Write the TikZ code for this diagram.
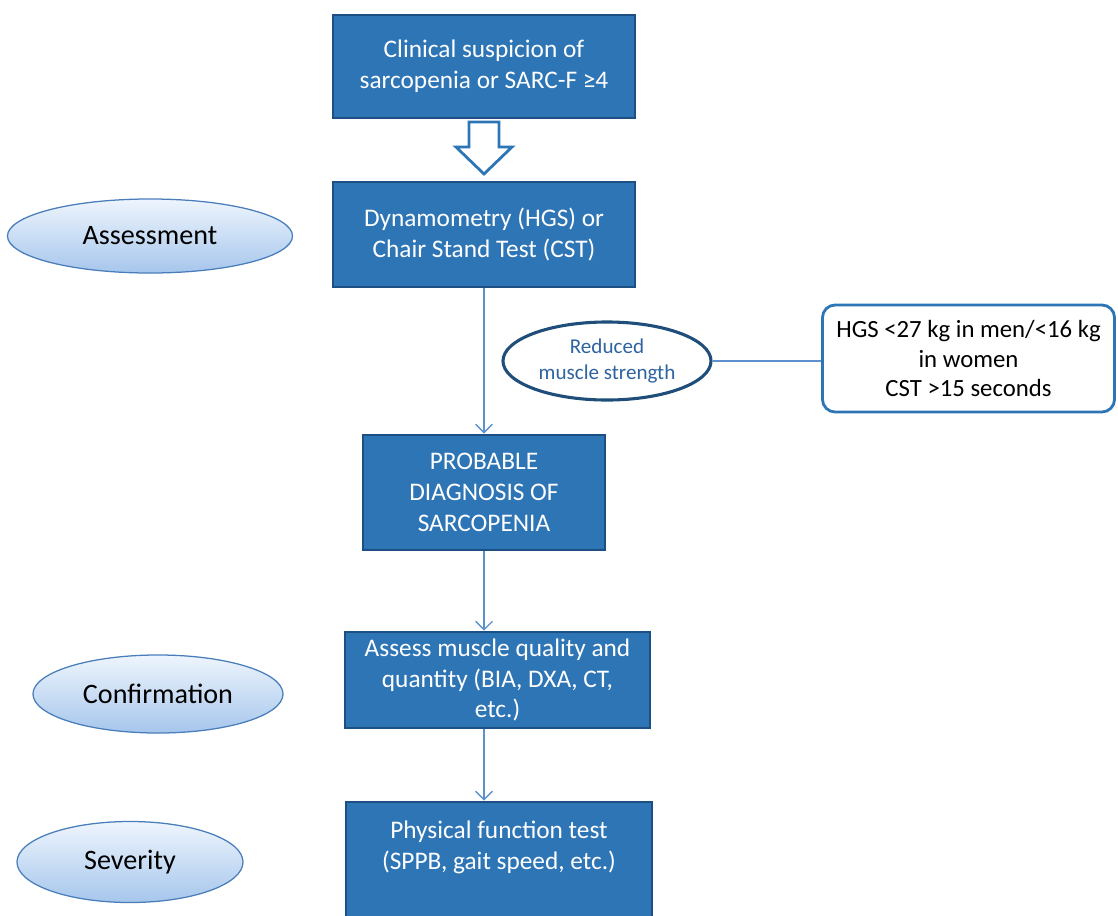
\documentclass[tikz,border=0pt]{standalone}
\usepackage{fontspec}
\setmainfont{Carlito}
\usetikzlibrary{shapes.geometric,arrows.meta}
\definecolor{boxblue}{RGB}{46,117,182}
\definecolor{boxedge}{RGB}{28,80,132}
\definecolor{linkblue}{RGB}{91,145,205}
\definecolor{ovaledge}{RGB}{74,126,187}
\definecolor{ovaltop}{RGB}{238,245,253}
\definecolor{ovalbot}{RGB}{166,198,236}
\definecolor{darkedge}{RGB}{30,78,121}
\definecolor{labelblue}{RGB}{46,100,160}
\tikzset{
  stagebox/.style={draw=boxedge, line width=1.8pt, fill=boxblue, text=white, align=center,
    font=\fontsize{18}{22}\selectfont, inner sep=2pt},
  phase/.style={ellipse, draw=ovaledge, line width=0.9pt, top color=ovaltop, bottom color=ovalbot,
    font=\fontsize{20}{24}\selectfont, inner sep=0pt},
  link/.style={draw=linkblue, line width=1pt, -{Straight Barb[length=6pt,width=12pt]}},
}
\begin{document}
\begin{tikzpicture}[x=0.025cm,y=-0.025cm]
\clip (0,0) rectangle (1118,915);
\node[stagebox, minimum width=7.55cm, minimum height=2.575cm] (suspect) at (484,66.5) {Clinical suspicion of\\sarcopenia or SARC-F ≥4};
\draw[boxblue, line width=2pt, fill=white, line join=miter] (469,122) -- (499,122) -- (499,147) -- (512,147) -- (484,174) -- (456,147) -- (469,147) -- cycle;
\node[stagebox, minimum width=7.55cm, minimum height=2.625cm] (strength) at (484,234.5) {Dynamometry (HGS) or\\Chair Stand Test (CST)};
\node[stagebox, minimum width=6.05cm, minimum height=2.875cm] (probable) at (484,492.5) {PROBABLE\\DIAGNOSIS OF\\SARCOPENIA};
\node[stagebox, minimum width=7.625cm, minimum height=2.4cm] (quality) at (497.5,680) {Assess muscle quality and\\quantity (BIA, DXA, CT,\\etc.)};
\node[stagebox, minimum width=7.65cm, minimum height=2.95cm] (function) at (499,861) {Physical function test\\(SPPB, gait speed, etc.)\\~};
\node[phase, minimum width=7.125cm, minimum height=1.85cm] (assess) at (150,236) {Assessment};
\node[phase, minimum width=6.25cm, minimum height=1.95cm] (confirm) at (158,694) {Confirmation};
\node[phase, minimum width=5.65cm, minimum height=2.025cm] (severity) at (130,862) {Severity};
\node[ellipse, draw=darkedge, line width=2.2pt, fill=white, text=labelblue, align=center,
  font=\fontsize{15}{18}\selectfont, minimum width=5.2cm, minimum height=1.95cm, inner sep=0pt] (reduced) at (607,361) {Reduced\\muscle strength};
\node[draw=boxblue, line width=2pt, rounded corners=9pt, fill=white, align=center,
  font=\fontsize{17.6}{21}\selectfont, minimum width=7.3cm, minimum height=2.675cm, inner sep=1pt] (cutoff) at (968.5,358.5) {HGS <27 kg in men/<16 kg\\in women\\CST >15 seconds};
\draw[link] (strength.south) -- (probable.north);
\draw[link] (probable.south) -- (probable.south |- quality.north);
\draw[link] (probable.south |- quality.south) -- (probable.south |- function.north);
\draw[draw=linkblue, line width=1pt] (reduced.east) -- (reduced.east -| cutoff.west);
\end{tikzpicture}
\end{document}
